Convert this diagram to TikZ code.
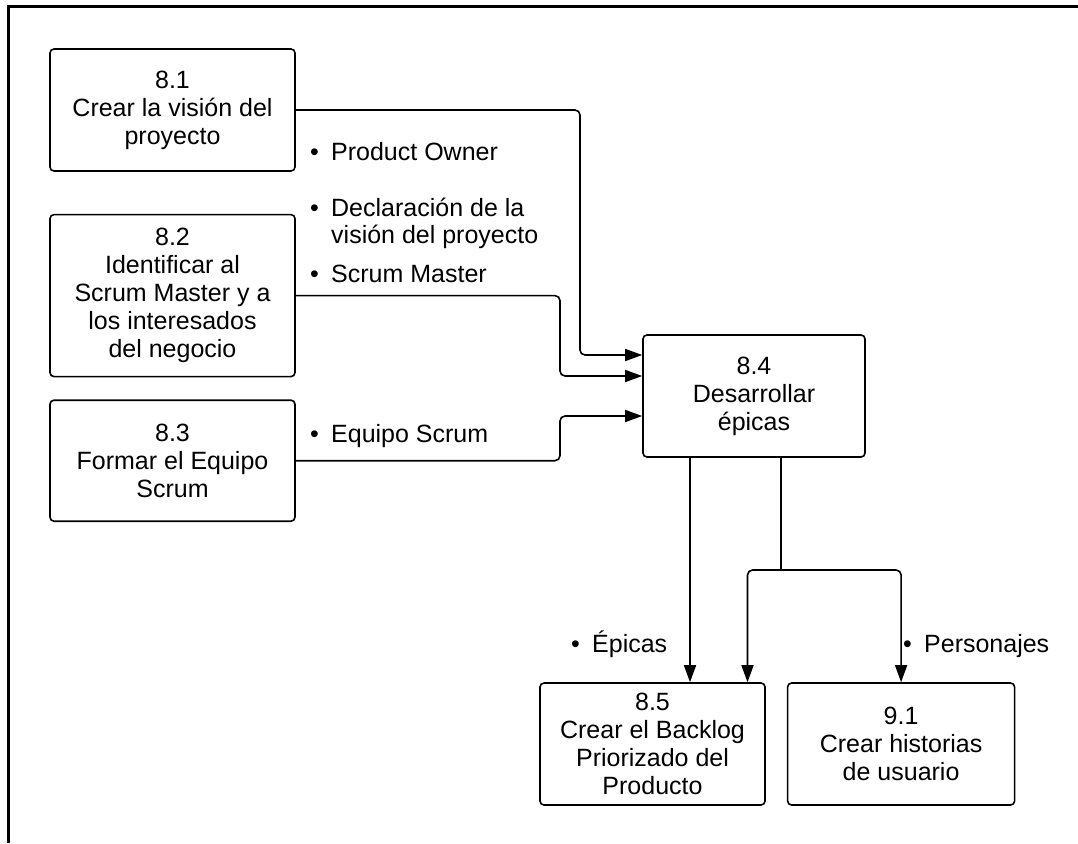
\documentclass[tikz,border=0pt]{standalone}
\usepackage{fontspec}
\setmainfont{Liberation Sans}
\usetikzlibrary{arrows.meta,positioning}

\tikzset{
  proc/.style={draw, line width=1.6pt, rounded corners=4pt, align=center, inner sep=0pt,
    minimum height=122pt, font=\fontsize{25}{28}\selectfont},
  flow/.style={line width=1.6pt, rounded corners=5pt, -{Triangle[length=17pt,width=12pt]}},
  lbl/.style={align=left, inner sep=0pt, font=\fontsize{25}{27}\selectfont},
}
\newcommand{\bul}{\makebox[21pt][l]{\textbullet}}

\begin{document}
\begin{tikzpicture}[x=1pt,y=-1pt]
\useasboundingbox (0,0) rectangle (1078,843);
% outer frame
\draw[line width=3pt] (8.5,843) -- (8.5,6.5) -- (1078,6.5);

% inputs
\node[proc, minimum width=245pt] (p81) at (172.5,110) {8.1\\Crear la visión del\\proyecto};
\node[proc, minimum width=245pt, minimum height=162pt, below=42pt of p81] (p82) {8.2\\Identificar al\\Scrum Master y a\\los interesados\\del negocio};
\node[proc, minimum width=245pt, minimum height=121pt, below=22pt of p82] (p83) {8.3\\Formar el Equipo\\Scrum};

% process
\node[proc, minimum width=222pt] (p84) at (754,396) {8.4\\Desarrollar\\épicas};

% outputs
\node[proc, minimum width=225pt] (p85) at (652.5,744) {8.5\\Crear el Backlog\\Priorizado del\\Producto};
\node[proc, minimum width=227pt, right=21pt of p85] (p91) {9.1\\Crear historias\\de usuario};

% arrows in
\draw[flow] (p81.east) -| (580,355) -- ([yshift=41pt]p84.west);
\draw[flow] (p82.east) -| (560,376) -- ([yshift=20pt]p84.west);
\draw[flow] (p83.east) -| (560,416) -- ([yshift=-20pt]p84.west);

% arrows out
\draw[flow] ([xshift=-64pt]p84.south) -- ([xshift=-64pt]p84.south |- p85.north);
\coordinate (split) at (781,570);
\draw[line width=1.6pt] ([xshift=27pt]p84.south) -- (split);
\draw[flow] (split) -| ([xshift=95pt]p85.north);
\draw[flow] (split) -| (p91.north);

% labels
\node[lbl, anchor=base west] (lpo) at (310,160) {\bul Product Owner};
\node[lbl, anchor=north west] (ldv) at (310,198) {\bul Declaración de la\\\hphantom{\bul}visión del proyecto};
\node[lbl, anchor=base west] (lsm) at (310,282) {\bul Scrum Master};
\node[lbl, anchor=base west] (les) at (310,442) {\bul Equipo Scrum};
\node[lbl, anchor=base west] (lep) at (571,652) {\bul Épicas};
\node[lbl, anchor=base west] (lpe) at (903,652) {\bul Personajes};
\end{tikzpicture}
\end{document}
